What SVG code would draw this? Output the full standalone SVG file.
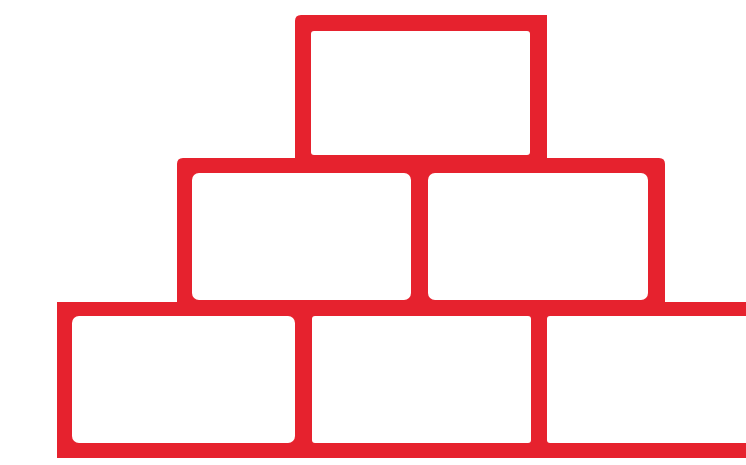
<svg xmlns="http://www.w3.org/2000/svg" width="746" height="465" viewBox="0 0 746 465">
<style>
.brick{fill:#ffffff;}
.wall{fill:#E6222E;}
</style>
<rect x="0" y="0" width="746" height="465" fill="#ffffff"/>
<path class="wall" d="M301,15 L547,15 L547,158 L659,158 Q665,158 665,164 L665,302 L746,302 L746,458 L57,458 L57,302 L177,302 L177,164 Q177,158 183,158 L295,158 L295,21 Q295,15 301,15 Z"/>
<g id="row-top">
<rect class="brick" x="311" y="31" width="219" height="124" rx="3"/>
</g>
<g id="row-middle">
<rect class="brick" x="192" y="173" width="219" height="127" rx="7"/>
<rect class="brick" x="428" y="173" width="220" height="127" rx="7"/>
</g>
<g id="row-bottom">
<rect class="brick" x="72" y="316" width="223" height="127" rx="7"/>
<rect class="brick" x="312" y="316" width="219" height="127" rx="3"/>
<rect class="brick" x="547" y="316" width="210" height="127" rx="3"/>
</g>
</svg>
